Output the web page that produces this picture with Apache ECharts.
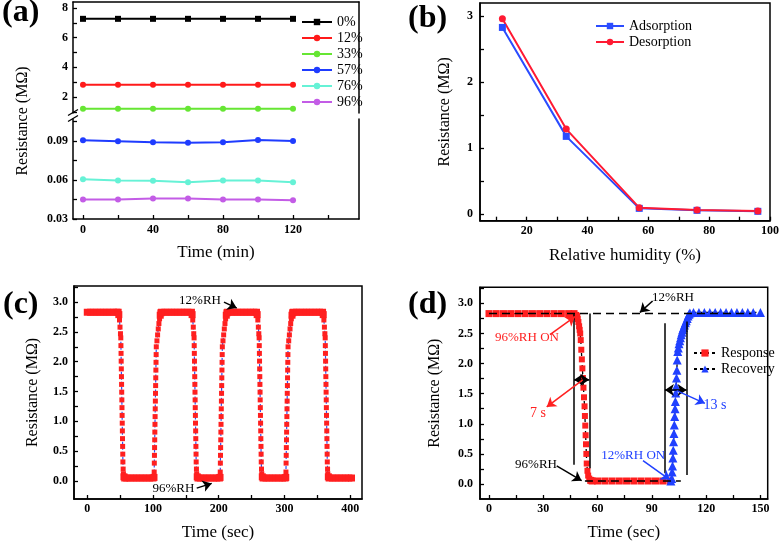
<!DOCTYPE html>
<html><head><meta charset="utf-8">
<script src="https://cdn.jsdelivr.net/npm/echarts@6/dist/echarts.min.js"></script>
<style>html,body{margin:0;padding:0;background:#fff}#c{width:780px;height:545px}</style>
</head><body><div id="c"></div>
<script>
// ---------- (a) stability ----------
const aTime = [0, 20, 40, 60, 80, 100, 120];
const a0  = [7.27, 7.27, 7.27, 7.27, 7.27, 7.27, 7.27];
const a12 = [2.83, 2.83, 2.83, 2.83, 2.83, 2.83, 2.83];
const a33 = [1.21, 1.21, 1.21, 1.21, 1.21, 1.21, 1.21];
const a57 = [0.0905, 0.0897, 0.0890, 0.0887, 0.0890, 0.0908, 0.0900];
const a76 = [0.0605, 0.0597, 0.0595, 0.0582, 0.0597, 0.0597, 0.0582];
const a96 = [0.0450, 0.0450, 0.0458, 0.0458, 0.0450, 0.0450, 0.0445];
const aNames = ['0%', '12%', '33%', '57%', '76%', '96%'];
const aTimeTicks = [0, 20, 40, 60, 80, 100, 120, 140];
const aTimeLabels = [0, 40, 80, 120];
const aUpperTicks = [1, 2, 3, 4, 5, 6, 7, 8];
const aUpperLabels = [2, 4, 6, 8];
const aLowerTicks = [0.03, 0.045, 0.06, 0.075, 0.09, 0.105];
const aLowerLabels = [0.03, 0.06, 0.09];

// ---------- (b) humidity ----------
const bHumidity = [12, 33, 57, 76, 96];
const bAdsorption = [2.83, 1.18, 0.09, 0.06, 0.045];
const bDesorption = [2.96, 1.29, 0.10, 0.065, 0.05];
const bXTicks = [10, 20, 30, 40, 50, 60, 70, 80, 90, 100];
const bXLabels = [20, 40, 60, 80, 100];
const bYTicks = [0, 0.5, 1, 1.5, 2, 2.5, 3];
const bYLabels = [0, 1, 2, 3];

// ---------- (c) repeated cycles [time s, resistance MΩ] ----------
const cCycles = [
  [0,2.83],[5,2.83],[10,2.83],[15,2.83],[20,2.83],[25,2.83],[30,2.83],[35,2.83],[40,2.83],[45,2.83],[47,2.83],
  [48,2.79],[49,2.7],[49.8,2.58],[50.5,2.47],[51,2.4],[51.2,2.27],[51.4,2.14],[51.6,2.01],[51.8,1.88],[52,1.75],[52.2,1.62],[52.4,1.49],[52.6,1.36],[52.8,1.23],[53,1.1],[53.2,0.97],[53.4,0.84],[53.6,0.71],[53.8,0.58],[54,0.45],[54.2,0.32],[54.6,0.2],[55,0.12],[55.8,0.07],[57,0.05],
  [60,0.05],[65,0.05],[70,0.05],[75,0.05],[80,0.05],[85,0.05],[90,0.05],[95,0.05],[100,0.05],[101.5,0.06],
  [101.8,0.15],[102,0.3],[102.2,0.43],[102.4,0.56],[102.6,0.69],[102.8,0.82],[103,0.95],[103.2,1.08],[103.4,1.21],[103.6,1.34],[103.8,1.47],[104,1.6],[104.2,1.73],[104.4,1.86],[104.6,1.99],[104.8,2.12],[105,2.25],[106,2.35],[107,2.45],[108,2.55],[109,2.64],[110,2.72],[111,2.78],[112,2.82],[113,2.83],
  [118,2.83],[123,2.83],[128,2.83],[133,2.83],[138,2.83],[143,2.83],[148,2.83],[153,2.83],[158.5,2.83],
  [159.5,2.79],[160.5,2.7],[161.3,2.58],[162,2.47],[162.5,2.4],[162.7,2.27],[162.9,2.14],[163.1,2.01],[163.3,1.88],[163.5,1.75],[163.7,1.62],[163.9,1.49],[164.1,1.36],[164.3,1.23],[164.5,1.1],[164.7,0.97],[164.9,0.84],[165.1,0.71],[165.3,0.58],[165.5,0.45],[165.7,0.32],[166.1,0.2],[166.5,0.12],[167.3,0.07],[168.5,0.05],
  [172,0.05],[177,0.05],[182,0.05],[187,0.05],[192,0.05],[197,0.05],[201,0.05],[202,0.06],
  [202.3,0.15],[202.5,0.3],[202.7,0.43],[202.9,0.56],[203.1,0.69],[203.3,0.82],[203.5,0.95],[203.7,1.08],[203.9,1.21],[204.1,1.34],[204.3,1.47],[204.5,1.6],[204.7,1.73],[204.9,1.86],[205.1,1.99],[205.3,2.12],[205.5,2.25],[206.5,2.35],[207.5,2.45],[208.5,2.55],[209.5,2.64],[210.5,2.72],[211.5,2.78],[212.5,2.82],[213.5,2.83],
  [218.5,2.83],[223.5,2.83],[228.5,2.83],[233.5,2.83],[238.5,2.83],[243.5,2.83],[248.5,2.83],[253.5,2.83],[257.5,2.83],
  [258.5,2.79],[259.5,2.7],[260.3,2.58],[261,2.47],[261.5,2.4],[261.7,2.27],[261.9,2.14],[262.1,2.01],[262.3,1.88],[262.5,1.75],[262.7,1.62],[262.9,1.49],[263.1,1.36],[263.3,1.23],[263.5,1.1],[263.7,0.97],[263.9,0.84],[264.1,0.71],[264.3,0.58],[264.5,0.45],[264.7,0.32],[265.1,0.2],[265.5,0.12],[266.3,0.07],[267.5,0.05],
  [272,0.05],[277,0.05],[282,0.05],[287,0.05],[292,0.05],[297,0.05],[301,0.05],[302,0.06],
  [302.3,0.15],[302.5,0.3],[302.7,0.43],[302.9,0.56],[303.1,0.69],[303.3,0.82],[303.5,0.95],[303.7,1.08],[303.9,1.21],[304.1,1.34],[304.3,1.47],[304.5,1.6],[304.7,1.73],[304.9,1.86],[305.1,1.99],[305.3,2.12],[305.5,2.25],[306.5,2.35],[307.5,2.45],[308.5,2.55],[309.5,2.64],[310.5,2.72],[311.5,2.78],[312.5,2.82],[313.5,2.83],
  [318.5,2.83],[323.5,2.83],[328.5,2.83],[333.5,2.83],[338.5,2.83],[343.5,2.83],[348.5,2.83],[353.5,2.83],[358,2.83],
  [359,2.79],[360,2.7],[360.8,2.58],[361.5,2.47],[362,2.4],[362.2,2.27],[362.4,2.14],[362.6,2.01],[362.8,1.88],[363,1.75],[363.2,1.62],[363.4,1.49],[363.6,1.36],[363.8,1.23],[364,1.1],[364.2,0.97],[364.4,0.84],[364.6,0.71],[364.8,0.58],[365,0.45],[365.2,0.32],[365.6,0.2],[366,0.12],[366.8,0.07],[368,0.05],
  [373,0.05],[378,0.05],[383,0.05],[388,0.05],[393,0.05],[398,0.05],[402,0.05]
];
const cXTicks = [0, 50, 100, 150, 200, 250, 300, 350, 400];
const cXLabels = [0, 100, 200, 300, 400];
const rYTicks = [0, 0.25, 0.5, 0.75, 1, 1.25, 1.5, 1.75, 2, 2.25, 2.5, 2.75, 3, 3.25];
const rYLabels = [0, 0.5, 1, 1.5, 2, 2.5, 3];

// ---------- (d) single response / recovery ----------
const dResponse = [
  [0,2.83],[4,2.83],[8,2.83],[12,2.83],[16,2.83],[20,2.83],[24,2.83],[28,2.83],[32,2.83],[36,2.83],[40,2.83],[44,2.83],[47,2.83],
  [48,2.8],[48.5,2.78],[49,2.74],[49.4,2.69],[49.8,2.62],[50.1,2.56],[50.4,2.5],[50.7,2.39],[51,2.23],[51.3,2.07],[51.6,1.92],[51.9,1.76],[52.2,1.6],[52.5,1.44],[52.8,1.29],[53,1.13],[53.2,0.97],[53.4,0.81],[53.6,0.66],[53.8,0.5],[54,0.34],[54.4,0.22],[54.8,0.14],[55.4,0.09],[56.2,0.06],[57,0.05],
  [60,0.05],[64,0.05],[68,0.05],[72,0.05],[76,0.05],[80,0.05],[84,0.05],[88,0.05],[92,0.05],[96,0.05],[100,0.05]
];
const dRecovery = [
  [100.5,0.05],[101,0.09],[101.2,0.2],[101.4,0.3],[101.6,0.43],[101.8,0.56],[102,0.7],[102.2,0.84],[102.4,0.98],[102.6,1.12],[102.8,1.25],[103,1.37],[103.2,1.51],[103.4,1.62],[103.6,1.76],[103.8,1.89],[104,2.06],[104.3,2.2],
  [104.6,2.26],[105,2.33],[105.4,2.38],[105.8,2.43],[106.2,2.48],[106.6,2.52],[107,2.56],[107.5,2.6],[108,2.64],[108.5,2.68],[109,2.71],[109.5,2.75],[110,2.79],[110.5,2.82],[111,2.84],
  [113,2.85],[116,2.85],[119,2.85],[122,2.85],[125,2.85],[128,2.85],[131,2.85],[134,2.85],[137,2.85],[140,2.85],[143,2.85],[146,2.85],[150,2.85]
];
const dHighRef = [[0,2.83],[145,2.83]];
const dLowRef = [[53,0.05],[106,0.05]];
const dXTicks = [0, 15, 30, 45, 60, 75, 90, 105, 120, 135, 150];
const dXLabels = [0, 30, 60, 90, 120, 150];

// ---------- styling helpers ----------
const SERIF = 'Liberation Serif';
const zip = (xs, ys) => xs.map((x, i) => [x, ys[i]]);
const tickStyle = (vals) => ({show: true, inside: true, length: 4, customValues: vals, lineStyle: {color: '#000', width: 1.3}});
const labelStyle = (vals, margin, fmt) => ({show: true, customValues: vals, margin: margin, fontFamily: SERIF, fontWeight: 'bold', fontSize: 12, color: '#000', formatter: fmt});
const lineStyleAx = {show: true, onZero: false, lineStyle: {color: '#000', width: 1.5}};
const nameStyle = {fontFamily: SERIF, fontSize: 17, color: '#000'};
const yNameStyle = {fontFamily: SERIF, fontSize: 16, color: '#000'};
const fx1 = v => Number(v).toFixed(1);
const fx2 = v => Number(v).toFixed(2);
const plain = {axisLine: lineStyleAx, axisTick: {show: false}, axisLabel: {show: false}, splitLine: {show: false}};
// plateau markers overlap into a thick band; markers on the fast transitions are a bit smaller
const bandSize = (big, small) => (v) => (v[1] >= 2.78 || v[1] <= 0.07) ? big : small;

const arrow = (a, b, color, kind) => [
  {coord: a, symbol: kind === 'double' ? 'arrow' : 'none', lineStyle: {color: color, width: 1.5, type: 'solid'}},
  {coord: b, symbol: kind === 'none' ? 'none' : 'arrow'}
];
const legendText = {fontFamily: SERIF, fontSize: 14, color: '#000'};

const option = {
  animation: false,
  backgroundColor: '#fff',
  textStyle: {fontFamily: SERIF},
  grid: [
    {left: 73, top: 2, width: 286, height: 111, outerBoundsMode: 'none'},
    {left: 73, top: 119, width: 286, height: 100, outerBoundsMode: 'none'},
    {left: 480, top: 3, width: 290, height: 217.7, show: true, borderColor: '#000', borderWidth: 1.5, outerBoundsMode: 'none'},
    {left: 74, top: 286, width: 288, height: 213, show: true, borderColor: '#000', borderWidth: 1.5, outerBoundsMode: 'none'},
    {left: 480, top: 287.3, width: 287.7, height: 211.7, show: true, borderColor: '#000', borderWidth: 1.5, outerBoundsMode: 'none'}
  ],
  xAxis: [
    Object.assign({type: 'value', gridIndex: 0, position: 'top', min: -5.71, max: 157.7}, plain),
    {type: 'value', gridIndex: 1, min: -5.71, max: 157.7, axisLine: lineStyleAx, splitLine: {show: false},
     axisTick: tickStyle(aTimeTicks), axisLabel: labelStyle(aTimeLabels, 5),
     name: 'Time (min)', nameLocation: 'middle', nameGap: 25, nameTextStyle: nameStyle},
    {type: 'value', gridIndex: 2, min: 4.64, max: 100, axisLine: lineStyleAx, splitLine: {show: false},
     axisTick: tickStyle(bXTicks), axisLabel: labelStyle(bXLabels, 4),
     name: 'Relative humidity (%)', nameLocation: 'middle', nameGap: 26, nameTextStyle: nameStyle},
    {type: 'value', gridIndex: 3, min: -20.2, max: 418, axisLine: lineStyleAx, splitLine: {show: false},
     axisTick: tickStyle(cXTicks), axisLabel: labelStyle(cXLabels, 4),
     name: 'Time (sec)', nameLocation: 'middle', nameGap: 25, nameTextStyle: nameStyle},
    {type: 'value', gridIndex: 4, min: -4.97, max: 154, axisLine: lineStyleAx, splitLine: {show: false},
     axisTick: tickStyle(dXTicks), axisLabel: labelStyle(dXLabels, 4),
     name: 'Time (sec)', nameLocation: 'middle', nameGap: 25, nameTextStyle: nameStyle}
  ],
  yAxis: [
    {type: 'value', gridIndex: 0, min: 0.921, max: 8.405, axisLine: lineStyleAx, splitLine: {show: false},
     axisTick: tickStyle(aUpperTicks), axisLabel: labelStyle(aUpperLabels, 5)},
    {type: 'value', gridIndex: 1, min: 0.03, max: 0.1069, axisLine: lineStyleAx, splitLine: {show: false},
     axisTick: tickStyle(aLowerTicks), axisLabel: labelStyle(aLowerLabels, 5, fx2)},
    Object.assign({type: 'value', gridIndex: 0, position: 'right', min: 0.921, max: 8.405}, plain),
    Object.assign({type: 'value', gridIndex: 1, position: 'right', min: 0.03, max: 0.1069}, plain),
    {type: 'value', gridIndex: 2, min: -0.097, max: 3.2, axisLine: lineStyleAx, splitLine: {show: false},
     axisTick: tickStyle(bYTicks), axisLabel: labelStyle(bYLabels, 7),
     name: 'Resistance (MΩ)', nameLocation: 'middle', nameGap: 27, nameTextStyle: yNameStyle},
    {type: 'value', gridIndex: 3, min: -0.302, max: 3.27, axisLine: lineStyleAx, splitLine: {show: false},
     axisTick: tickStyle(rYTicks), axisLabel: labelStyle(rYLabels, 6, fx1),
     name: 'Resistance (MΩ)', nameLocation: 'middle', nameGap: 33, nameTextStyle: yNameStyle},
    {type: 'value', gridIndex: 4, min: -0.249, max: 3.267, axisLine: lineStyleAx, splitLine: {show: false},
     axisTick: tickStyle(rYTicks), axisLabel: labelStyle(rYLabels, 7, fx1),
     name: 'Resistance (MΩ)', nameLocation: 'middle', nameGap: 37, nameTextStyle: yNameStyle}
  ],
  legend: [
    {data: aNames, left: 296, top: 10, orient: 'vertical', itemWidth: 30, itemHeight: 8, itemGap: 2,
     textStyle: legendText, selectedMode: false},
    {data: ['Adsorption', 'Desorption'], left: 590, top: 14, orient: 'vertical', itemWidth: 28, itemHeight: 8, itemGap: 2,
     textStyle: legendText, selectedMode: false},
    {data: ['Response', 'Recovery'], left: 688, top: 341, orient: 'vertical', itemWidth: 22, itemHeight: 9, itemGap: 2,
     textStyle: legendText, selectedMode: false}
  ],
  series: [
    {name: '0%', type: 'line', xAxisIndex: 0, yAxisIndex: 0, data: zip(aTime, a0), symbol: 'rect', symbolSize: 6, color: '#000', lineStyle: {width: 2}},
    {name: '12%', type: 'line', xAxisIndex: 0, yAxisIndex: 0, data: zip(aTime, a12), symbol: 'circle', symbolSize: 6, color: '#ff1a1a', lineStyle: {width: 2}},
    {name: '33%', type: 'line', xAxisIndex: 0, yAxisIndex: 0, data: zip(aTime, a33), symbol: 'circle', symbolSize: 6, color: '#66e633', lineStyle: {width: 2}},
    {name: '57%', type: 'line', xAxisIndex: 1, yAxisIndex: 1, data: zip(aTime, a57), symbol: 'circle', symbolSize: 6, color: '#1f3cff', lineStyle: {width: 2}},
    {name: '76%', type: 'line', xAxisIndex: 1, yAxisIndex: 1, data: zip(aTime, a76), symbol: 'circle', symbolSize: 6, color: '#66f2d6', lineStyle: {width: 2}},
    {name: '96%', type: 'line', xAxisIndex: 1, yAxisIndex: 1, data: zip(aTime, a96), symbol: 'circle', symbolSize: 6, color: '#c35ce6', lineStyle: {width: 2}},

    {name: 'Adsorption', type: 'line', xAxisIndex: 2, yAxisIndex: 4, data: zip(bHumidity, bAdsorption), symbol: 'rect', symbolSize: 7, color: '#2b4cff', lineStyle: {width: 2}},
    {name: 'Desorption', type: 'line', xAxisIndex: 2, yAxisIndex: 4, data: zip(bHumidity, bDesorption), symbol: 'circle', symbolSize: 7, color: '#ff1a33', lineStyle: {width: 2}},

    {name: 'cycles', type: 'line', xAxisIndex: 3, yAxisIndex: 5, data: cCycles, symbol: 'rect', symbolSize: bandSize(7, 5),
     itemStyle: {color: '#ff1f1f'}, lineStyle: {color: '#2e4df2', width: 1.2, type: [3, 2]},
     markLine: {silent: true, symbolSize: 9, label: {show: false}, animation: false,
       data: [arrow([208, 3.0], [227.4, 2.9], '#000'), arrow([166.5, -0.12], [189.3, -0.04], '#000')]}},

    {name: 'Response', type: 'line', xAxisIndex: 4, yAxisIndex: 6, data: dResponse, symbol: 'rect', symbolSize: bandSize(7, 6),
     itemStyle: {color: '#ff1f1f'}, lineStyle: {color: '#000', width: 1.3, type: [3, 3]}},
    {name: 'Recovery', type: 'line', xAxisIndex: 4, yAxisIndex: 6, data: dRecovery, symbol: 'triangle', symbolSize: 9,
     itemStyle: {color: '#2040ff'}, lineStyle: {color: '#000', width: 1.3, type: [3, 3]}},
    {name: 'ref-high', type: 'line', xAxisIndex: 4, yAxisIndex: 6, data: dHighRef, symbol: 'none', z: 5,
     lineStyle: {color: '#000', width: 1.5, type: [8, 5]},
     markLine: {silent: true, symbolSize: 9, label: {show: false}, animation: false,
       data: [
         arrow([47, 0.32], [47, 2.83], '#000', 'none'),
         arrow([55.4, 0.26], [55.4, 2.83], '#000', 'none'),
         arrow([97.2, 0.18], [97.2, 2.67], '#000', 'none'),
         arrow([109.2, 0.15], [109.2, 2.70], '#000', 'none'),
         arrow([47, 1.73], [55.4, 1.73], '#000', 'double'),
         arrow([97.2, 1.56], [109.2, 1.56], '#000', 'double'),
         arrow([33.7, 2.48], [47.5, 2.78], '#ff2020'),
         arrow([51.8, 1.73], [31.9, 1.28], '#ff2020'),
         arrow([37.4, 0.30], [51.2, 0.055], '#000'),
         arrow([90.4, 3.04], [83.4, 2.85], '#000'),
         arrow([85.1, 0.39], [100, 0.07], '#2040ff'),
         arrow([103.7, 1.55], [119.3, 1.34], '#2040ff')
       ]}},
    {name: 'ref-low', type: 'line', xAxisIndex: 4, yAxisIndex: 6, data: dLowRef, symbol: 'none', z: 5,
     lineStyle: {color: '#000', width: 1.5, type: [8, 5]}}
  ]
};

const chart = echarts.init(document.getElementById('c'), null, {renderer: 'canvas'});
chart.setOption(option);

// annotation texts and panel labels
const notes = [
  {ax: [3, 5], at: [171.5, 3.03], text: '12%RH', color: '#000'},
  {ax: [3, 5], at: [131, -0.13], text: '96%RH', color: '#000'},
  {ax: [4, 6], at: [21, 2.43], text: '96%RH ON', color: '#ff2020'},
  {ax: [4, 6], at: [27, 1.18], text: '7 s', color: '#ff2020', size: 14},
  {ax: [4, 6], at: [26, 0.33], text: '96%RH', color: '#000'},
  {ax: [4, 6], at: [101.7, 3.09], text: '12%RH', color: '#000'},
  {ax: [4, 6], at: [79.7, 0.47], text: '12%RH ON', color: '#2040ff'},
  {ax: [4, 6], at: [124.9, 1.31], text: '13 s', color: '#2040ff', size: 14}
];
const graphic = notes.map(n => {
  const p = chart.convertToPixel({xAxisIndex: n.ax[0], yAxisIndex: n.ax[1]}, n.at);
  return {type: 'text', x: p[0], y: p[1], z: 100,
    style: {text: n.text, fill: n.color, font: (n.size || 13) + 'px "' + SERIF + '"', textAlign: 'center', textVerticalAlign: 'middle'}};
});
[['(a)', 2, -3], ['(b)', 408, 3], ['(c)', 3, 289], ['(d)', 408, 289]].forEach(l => {
  graphic.push({type: 'text', x: l[1], y: l[2], z: 100,
    style: {text: l[0], fill: '#000', font: 'bold 32px "' + SERIF + '"', textAlign: 'left', textVerticalAlign: 'top'}});
});
graphic.push({type: 'text', x: 23, y: 121, rotation: Math.PI / 2, z: 100,
  style: {text: 'Resistance (MΩ)', fill: '#000', font: '16px "' + SERIF + '"', textAlign: 'center', textVerticalAlign: 'middle'}});
// axis break marks on panel (a)
[[112.5], [118.5]].forEach(b => {
  graphic.push({type: 'line', z: 100, shape: {x1: 68, y1: b[0] + 3, x2: 78, y2: b[0] - 3}, style: {stroke: '#000', lineWidth: 1.3}});
});
chart.setOption({graphic: graphic});
</script>
</body></html>
